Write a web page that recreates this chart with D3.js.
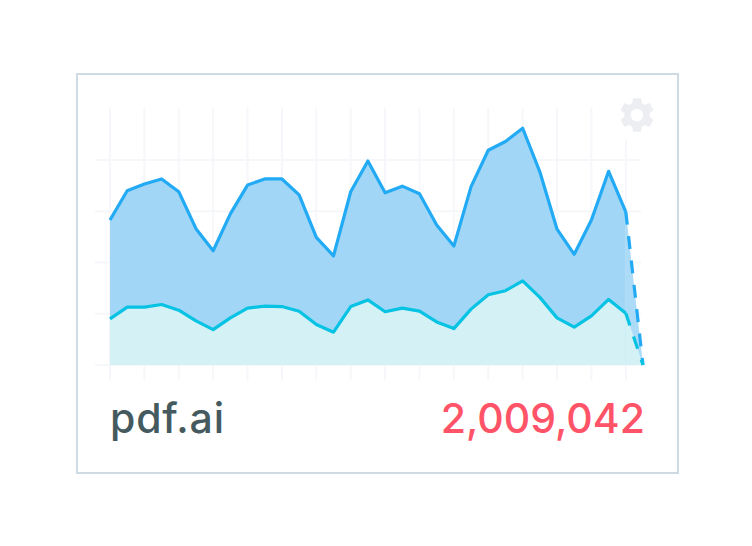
<!DOCTYPE html>
<html lang="en">
<head>
<meta charset="UTF-8">
<title>pdf.ai</title>
<script src="https://d3js.org/d3.v7.min.js"></script>
<style>
  html, body { margin: 0; padding: 0; background: #fff; }
  svg { display: block; }
  .grid line { stroke: #f6f7fa; stroke-width: 2; }
  text { font-family: "Inter", sans-serif; font-weight: 500; }
</style>
</head>
<body>
<svg id="canvas"></svg>
<script>
// values
let siteName = 'pdf.ai'
let totalLabel = '2,009,042'
let days = d3.range(32)
let visits = [283, 340, 353, 363, 338, 266, 223, 295, 351, 363, 363, 332, 249, 213, 338, 398,
              336, 349, 334, 273, 232, 348, 419, 436, 462, 377, 265, 216, 283, 378, 299, 0]
let uniques = [90, 113, 113, 118, 107, 86, 69, 92, 111, 115, 114, 105, 79, 64, 114, 127,
               104, 111, 105, 84, 71, 109, 137, 145, 164, 132, 92, 74, 96, 128, 101, 0]
let yTicks = [0, 100, 200, 300, 400]
let xTicks = days.filter(d => d % 2 == 0)

let width = 752
let height = 546

let canvas = d3.select('#canvas').attr('width', width).attr('height', height)

let xScale = d3.scaleLinear().domain([0, 31]).range([110, 643])
let yScale = d3.scaleLinear().domain([0, 400]).range([365, 160])

// card
canvas.append('rect')
  .attr('x', 77).attr('y', 74).attr('width', 601).attr('height', 399)
  .attr('fill', '#fff').attr('stroke', '#cfdbe3').attr('stroke-width', 2)

// grid
let xAxis = d3.axisBottom(xScale).tickValues(xTicks).tickSize(-272).tickFormat('').offset(0)
let yAxis = d3.axisLeft(yScale).tickValues(yTicks).tickSize(546).tickFormat('').offset(0)

canvas.append('g').attr('class', 'grid').attr('transform', 'translate(0,380)').call(xAxis)
canvas.append('g').attr('class', 'grid').attr('transform', 'translate(641,0)').call(yAxis)
canvas.selectAll('.grid .domain').remove()

// areas + lines, the last segment is the unfinished period
let drawSeries = (values, fill, lastFill, stroke, dash) => {
  let area = d3.area().x(d => xScale(d)).y0(yScale(0)).y1(d => yScale(values[d]))
  let line = d3.line().x(d => xScale(d)).y(d => yScale(values[d]))
  let done = days.slice(0, 31)
  let last = days.slice(30)

  canvas.append('path').attr('d', area(done)).attr('fill', fill)
  canvas.append('path').attr('d', area(last)).attr('fill', lastFill)
  return () => {
    canvas.append('path').attr('d', line(done))
      .attr('fill', 'none').attr('stroke', stroke).attr('stroke-width', 3.2).attr('stroke-linejoin', 'round')
    canvas.append('path').attr('d', line(last))
      .attr('fill', 'none').attr('stroke', stroke).attr('stroke-width', 3.2).attr('stroke-dasharray', dash)
  }
}

let blueLines = drawSeries(visits, '#a1d6f6', '#acdbf7', '#22aaf5', '13 11.5')
let tealLines = drawSeries(uniques, '#d4f1f5', '#d4f1f5', '#06c3e4', '13 11.5')
blueLines()
tealLines()

// settings icon
canvas.append('rect').attr('x', 612).attr('y', 92).attr('width', 50).attr('height', 48).attr('fill', '#fff')
canvas.append('path')
  .attr('transform', 'translate(616,94) scale(1.75)')
  .attr('fill', '#eceef2')
  .attr('d', 'M19.14 12.94c.04-.3.06-.61.06-.94 0-.32-.02-.64-.07-.94l2.03-1.58c.18-.14.23-.41.12-.61l-1.92-3.32c-.12-.22-.37-.29-.59-.22l-2.39.96c-.5-.38-1.03-.7-1.62-.94l-.36-2.54c-.04-.24-.24-.41-.48-.41h-3.84c-.24 0-.43.17-.47.41l-.36 2.54c-.59.24-1.13.57-1.62.94l-2.39-.96c-.22-.08-.47 0-.59.22L2.74 8.87c-.12.21-.08.47.12.61l2.03 1.58c-.05.3-.09.63-.09.94s.02.64.07.94l-2.03 1.58c-.18.14-.23.41-.12.61l1.92 3.32c.12.22.37.29.59.22l2.39-.96c.5.38 1.03.7 1.62.94l.36 2.54c.05.24.24.41.48.41h3.84c.24 0 .44-.17.47-.41l.36-2.54c.59-.24 1.13-.56 1.62-.94l2.39.96c.22.08.47 0 .59-.22l1.92-3.32c.12-.22.07-.47-.12-.61l-2.01-1.58zM12 15.6c-1.98 0-3.6-1.62-3.6-3.6s1.62-3.6 3.6-3.6 3.6 1.62 3.6 3.6-1.62 3.6-3.6 3.6z')

// labels
canvas.append('text').text(siteName)
  .attr('x', 110).attr('y', 433)
  .attr('font-size', 41).attr('letter-spacing', 0.8).attr('fill', '#455a5e')
canvas.append('text').text(totalLabel)
  .attr('x', 645).attr('y', 433).attr('text-anchor', 'end')
  .attr('font-size', 41).attr('fill', '#ff5468')
</script>
</body>
</html>
